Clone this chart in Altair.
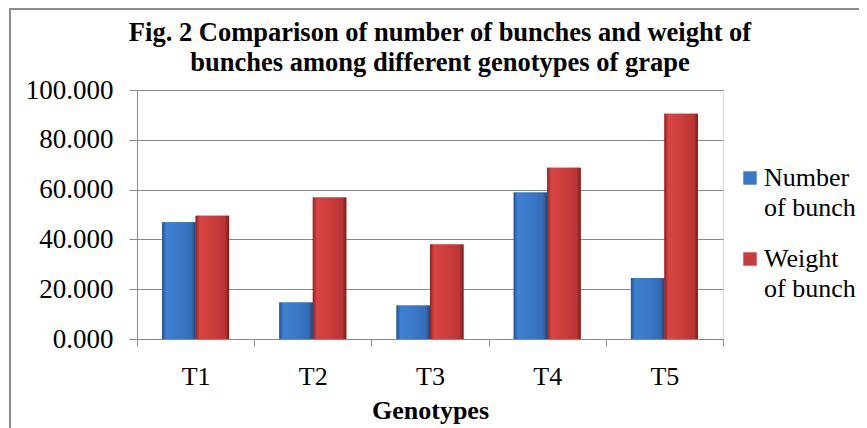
import altair as alt
import pandas as pd

genotypes = ["T1", "T2", "T3", "T4", "T5"]
number_of_bunch = [46.9, 14.7, 13.5, 58.8, 24.5]
weight_of_bunch = [49.5, 56.8, 38.0, 68.8, 90.5]
series = ["Number of bunch", "Weight of bunch"]

rows = []
for g, n, w in zip(genotypes, number_of_bunch, weight_of_bunch):
    rows.append({"Genotype": g, "Series": series[0], "Value": n})
    rows.append({"Genotype": g, "Series": series[1], "Value": w})
df = pd.DataFrame(rows)

FONT = "Liberation Serif"
BLUE = "#3B79C8"
RED = "#C93C3B"

xenc = alt.X(
    "Genotype:N",
    sort=genotypes,
    scale=alt.Scale(paddingInner=0, paddingOuter=0),
    axis=alt.Axis(
        title="Genotypes",
        titleFont=FONT, titleFontSize=26, titleFontWeight="bold", titleColor="black",
        titlePadding=8,
        labelFont=FONT, labelFontSize=26, labelColor="black", labelPadding=17,
        labelAngle=0,
        tickBand="extent", tickSize=7, tickColor="#8a8a8a",
        domainColor="#8a8a8a", grid=False,
    ),
)
yenc = alt.Y(
    "Value:Q",
    scale=alt.Scale(domain=[0, 100]),
    axis=alt.Axis(
        title=None, values=[0, 20, 40, 60, 80, 100], format=".3f",
        labelFont=FONT, labelFontSize=27, labelColor="black", labelPadding=16,
        tickSize=8, tickColor="#8a8a8a", domainColor="#8a8a8a",
        gridColor="#8a8a8a", gridWidth=1,
    ),
)
xoff = alt.XOffset("Series:N", sort=series,
                   scale=alt.Scale(paddingOuter=0.75, paddingInner=0))

base = alt.Chart(df).mark_bar().encode(
    x=xenc, y=yenc, xOffset=xoff,
    color=alt.Color(
        "Series:N", sort=series,
        scale=alt.Scale(domain=series, range=[BLUE, RED]),
        legend=alt.Legend(
            title=None, orient="none", legendX=600, legendY=75,
            labelFont=FONT, labelFontSize=26, labelColor="black",
            labelExpr="datum.label == 'Number of bunch' ? ['Number', 'of bunch'] : ['Weight', 'of bunch']",
            symbolType="square", symbolSize=180, symbolStrokeWidth=0,
            rowPadding=25, labelOffset=1,
        ),
    ),
)

blue_grad = alt.Gradient(
    gradient="linear", x1=0, y1=0, x2=1, y2=0,
    stops=[
        alt.GradientStop(offset=0, color="#24528F"),
        alt.GradientStop(offset=0.12, color="#3F80D2"),
        alt.GradientStop(offset=0.5, color="#3B79C8"),
        alt.GradientStop(offset=0.88, color="#336CB6"),
        alt.GradientStop(offset=1, color="#1F4577"),
    ],
)
red_grad = alt.Gradient(
    gradient="linear", x1=0, y1=0, x2=1, y2=0,
    stops=[
        alt.GradientStop(offset=0, color="#8E2322"),
        alt.GradientStop(offset=0.12, color="#D74443"),
        alt.GradientStop(offset=0.5, color="#CC3E3D"),
        alt.GradientStop(offset=0.88, color="#BA3534"),
        alt.GradientStop(offset=1, color="#7A1C1B"),
    ],
)

blue_layer = alt.Chart(df).transform_filter(
    alt.datum.Series == series[0]
).mark_bar(fill=blue_grad).encode(x=xenc, y=yenc, xOffset=xoff)
red_layer = alt.Chart(df).transform_filter(
    alt.datum.Series == series[1]
).mark_bar(fill=red_grad).encode(x=xenc, y=yenc, xOffset=xoff)

frame = alt.Chart(pd.DataFrame({"f": [0]})).mark_rect(
    fill=None, stroke="#8c8c8c", strokeWidth=2
).encode(
    x=alt.value(-127), x2=alt.value(760), y=alt.value(-81), y2=alt.value(400)
)

chart = alt.layer(base, blue_layer, red_layer, frame).properties(
    width=586, height=249,
    title=alt.TitleParams(
        text=["Fig. 2 Comparison of number of bunches and weight of",
              "bunches  among different genotypes of grape"],
        font=FONT, fontSize=26.5, fontWeight="bold", color="black",
        lineHeight=30, anchor="middle", dx=10, offset=-68,
    ),
    autosize=alt.AutoSizeParams(type="none"),
    padding={"left": 129, "top": 82, "right": 136, "bottom": 89},
).configure_view(stroke=None).configure(
    style={"guide-label": {"lineHeight": 30}}
)

chart.save("out.html", embed_options={"renderer": "svg", "actions": False})
